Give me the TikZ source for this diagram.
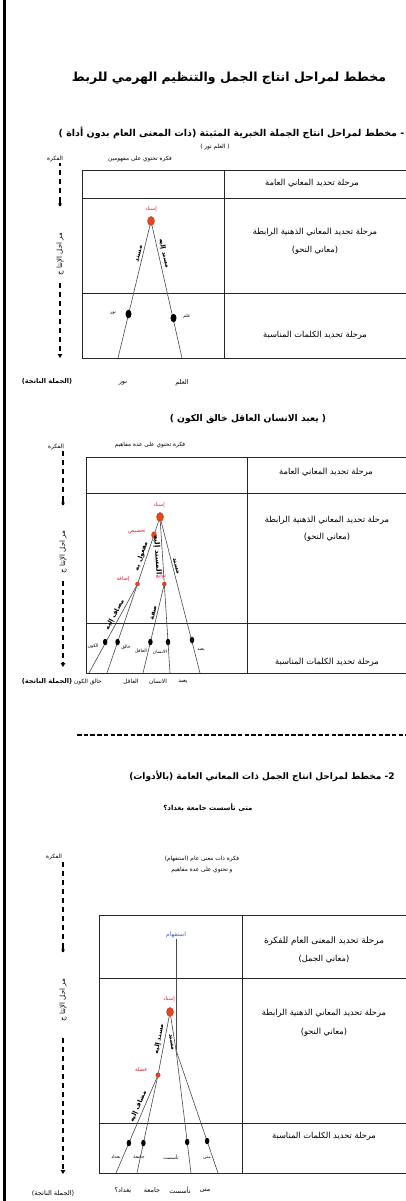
\documentclass[tikz,border=0pt]{standalone}
\usepackage{fontspec}
\newfontfamily\arabicfont[Script=Arabic]{DejaVu Sans}
\TeXXeTstate=1
\usetikzlibrary{arrows.meta,shapes.geometric}
\newcommand\AR[1]{{\arabicfont\beginR #1\endR}}
\definecolor{dotred}{HTML}{E8461E}
\definecolor{dotedge}{HTML}{B3260F}
\definecolor{labred}{HTML}{E3203A}
\definecolor{labblue}{HTML}{3F5FD6}
\definecolor{treeline}{HTML}{4A4A4A}
\tikzset{
  titletext/.style={inner sep=0.5pt, font=\bfseries\fontsize{12.5}{14}\selectfont},
  headtext/.style={inner sep=0.5pt, font=\bfseries\fontsize{9}{10}\selectfont},
  captext/.style={inner sep=0.5pt, font=\bfseries\fontsize{9.2}{10}\selectfont},
  smalltext/.style={inner sep=0.5pt, font=\fontsize{5.8}{11}\selectfont, align=center},
  phasetext/.style={inner sep=0.5pt, font=\fontsize{7}{8}\selectfont},
  tinytext/.style={inner sep=0.3pt, font=\fontsize{4.6}{5}\selectfont},
  wordtext/.style={inner sep=0.5pt, font=\fontsize{6.5}{7}\selectfont},
  restext/.style={inner sep=0.5pt, font=\bfseries\fontsize{6.6}{7}\selectfont},
  stagetext/.style={inner sep=0.5pt, font=\fontsize{8.3}{9}\selectfont},
  treelab/.style={inner sep=0.3pt, font=\bfseries\fontsize{6.4}{7}\selectfont},
  redlab/.style={inner sep=0.3pt, text=labred, font=\fontsize{5.3}{6}\selectfont},
  bluelab/.style={inner sep=0.3pt, text=labblue, font=\fontsize{6}{7}\selectfont},
  reddot/.style={ellipse, fill=dotred, draw=dotedge, line width=0.3pt, minimum width=7pt, minimum height=9pt, inner sep=0pt},
  smallred/.style={circle, fill=dotred, draw=dotedge, line width=0.3pt, minimum size=4pt, inner sep=0pt},
  bigbdot/.style={ellipse, fill=black, minimum width=6pt, minimum height=8.5pt, inner sep=0pt},
  bdot/.style={ellipse, fill=black, minimum width=4.5pt, minimum height=6.5pt, inner sep=0pt},
  adot/.style={ellipse, fill=black, minimum width=3pt, minimum height=4.5pt, inner sep=0pt},
  tline/.style={draw=treeline, line width=0.6pt},
  grid/.style={draw=black!85, line width=0.8pt},
  dashline/.style={line width=1.6pt, dash pattern=on 5pt off 4pt},
  arrowdash/.style={dashline, -{Triangle[length=4pt,width=4.5pt]}},
}
\begin{document}
\begin{tikzpicture}[x=1pt,y=-1pt]
\fill[white] (0,0) rectangle (406,1201);
\useasboundingbox (0,0) rectangle (406,1201);

% left border
\coordinate (bordertop) at (4.5,0);
\coordinate (borderbot) at (4.5,1201);
\draw[line width=3pt] (bordertop) -- (borderbot);

% ================= title =================
\node[titletext] (title) at (229,78) {\AR{مخطط لمراحل انتاج الجمل والتنظيم الهرمي للربط}};

% ================= section 1 =================
\node[headtext, font=\bfseries\fontsize{9.5}{10}\selectfont, anchor=east] (sub1) at (405,133) {\AR{- مخطط لمراحل انتاج الجملة الخبرية المثبتة (ذات المعنى العام بدون أداة )}};
\node[smalltext] (cap1) at (215,147) {\AR{( العلم نور )}};
\node[smalltext] (idea1) at (140,159) {\AR{فكرة تحتوي على مفهومين}};
\node[smalltext] (fk1) at (55,159) {\AR{الفكرة}};

\draw[grid] (406,170) -- (82,170) -- (82,358) -- (406,358);
\draw[grid] (82,198) -- (406,198);
\draw[grid] (82,293) -- (406,293);
\draw[grid] (224,170) -- (224,358);

\node[stagetext] (s11) at (312,183) {\AR{مرحلة تحديد المعاني العامة}};
\node[stagetext] (s12) at (315,232) {\AR{مرحلة تحديد المعاني الذهنية الرابطة}};
\node[stagetext] (s12b) at (315,250) {\AR{(معاني النحو)}};
\node[stagetext] (s13) at (315,335) {\AR{مرحلة تحديد الكلمات المناسبة}};

\node[reddot] (t1a) at (151,221) {};
\node[redlab] (t1al) at (151,209) {\AR{إسناد}};
\coordinate (t1e1) at (118,358);
\coordinate (t1e2) at (182,358);
\draw[tline] (t1a) -- (t1e1);
\draw[tline] (t1a) -- (t1e2);
\path (t1a) -- (t1e1) node[treelab, sloped, pos=0.22, above=2pt] (t1r1) {\AR{مسند}};
\path (t1a) -- (t1e2) node[treelab, sloped, pos=0.22, above=2pt] (t1r2) {\AR{مسند إليه}};
\node[bigbdot] (t1b1) at (128.5,314) {};
\node[bigbdot] (t1b2) at (173.5,318) {};
\node[tinytext] (t1w1) at (113,313) {\AR{نور}};
\node[tinytext] (t1w2) at (187,316) {\AR{علم}};

\node[restext] (res1) at (47,382) {\AR{(الجملة الناتجة)}};
\node[wordtext] (w11) at (123,383) {\AR{نور}};
\node[wordtext] (w12) at (182,383) {\AR{العلم}};

\node[adot] (ad1) at (60,204) {};
\node[phasetext, rotate=90] (ph1) at (60,254) {\AR{مر احل  الإنتا ج}};
\coordinate (ae1) at (60,358);
\draw[dashline] (ad1) -- (ad1 |- fk1.south);
\draw[arrowdash, shorten <=7pt] (ph1.west) -- (ae1);

% ================= section 1b =================
\node[captext] (cap2) at (248,419) {\AR{( يعبد الانسان العاقل خالق الكون )}};
\node[smalltext] (idea2) at (150,445) {\AR{فكرة تحتوي على عدة مفاهيم}};
\node[smalltext] (fk2) at (56,447) {\AR{الفكرة}};

\draw[grid] (406,457) -- (86,457) -- (86,673) -- (406,673);
\draw[grid] (86,493) -- (406,493);
\draw[grid] (86,623) -- (406,623);
\draw[grid] (247,457) -- (247,673);

\node[stagetext] (s21) at (326,472) {\AR{مرحلة تحديد المعاني العامة}};
\node[stagetext] (s22) at (327,520) {\AR{مرحلة تحديد المعاني الذهنية الرابطة}};
\node[stagetext] (s22b) at (327,537) {\AR{(معاني النحو)}};
\node[stagetext] (s23) at (327,662) {\AR{مرحلة تحديد الكلمات المناسبة}};

\node[reddot] (t2a) at (160,517) {};
\node[redlab] (t2al) at (159,505) {\AR{إسناد}};
\node[reddot, minimum width=5pt, minimum height=6.5pt] (t2b) at (154,535) {};
\node[redlab] (t2bl) at (137,532) {\AR{تخصيص}};
\node[smallred] (t2c) at (137.5,584) {};
\node[redlab] (t2cl) at (123,579) {\AR{إضافة}};
\node[smallred] (t2d) at (164.3,584) {};
\node[redlab] (t2dl) at (161,576) {\AR{توابع}};
\coordinate (t2e1) at (89,673);
\coordinate (t2e2) at (107,673);
\coordinate (t2e3) at (143,673);
\coordinate (t2e4) at (170,673);
\coordinate (t2e5) at (200,673);
\draw[tline] (t2a) -- (t2b);
\draw[tline] (t2a) -- (t2d);
\draw[tline] (t2d) -- (t2e4);
\draw[tline] (t2a) -- (t2e5);
\draw[tline] (t2b) -- (t2c);
\draw[tline] (t2c) -- (t2e2);
\draw[tline] (t2c) -- (t2e1);
\draw[tline] (t2d) -- (t2e3);
\path (t2b) -- (t2c) node[treelab, sloped, pos=0.45, above=1.5pt] (t2r1) {\AR{مفعول به}};
\path (t2a) -- (t2d) node[treelab, font=\bfseries\fontsize{7.2}{8}\selectfont, sloped, pos=0.55, below=1pt] (t2r2) {\AR{المسند إليه}};
\path (t2a) -- (t2e5) node[treelab, sloped, pos=0.3, above=1.5pt] (t2r3) {\AR{مسند}};
\path (t2c) -- (t2e1) node[treelab, sloped, pos=0.36, above=1.5pt] (t2r4) {\AR{مضاف إليه}};
\path (t2d) -- (t2e3) node[treelab, sloped, pos=0.32, above=1.5pt] (t2r5) {\AR{صفة}};
\node[bdot] (t2b1) at (105.2,642) {};
\node[bdot] (t2b2) at (117.6,642) {};
\node[bdot] (t2b3) at (150.4,642) {};
\node[bdot] (t2b4) at (168,642) {};
\node[bdot] (t2b5) at (192,640) {};
\node[tinytext] (t2w1) at (93,646) {\AR{الكون}};
\node[tinytext] (t2w2) at (126,647) {\AR{خالق}};
\node[tinytext] (t2w3) at (141,651) {\AR{العاقل}};
\node[tinytext] (t2w4) at (160,652) {\AR{الانسان}};
\node[tinytext] (t2w5) at (201,650) {\AR{يعبد}};

\node[restext] (res2) at (47,682) {\AR{(الجملة الناتجة)}};
\node[wordtext, font=\fontsize{5.8}{6}\selectfont] (w21) at (88,682) {\AR{خالق الكون}};
\node[wordtext, font=\fontsize{5.8}{6}\selectfont] (w22) at (131,682) {\AR{العاقل}};
\node[wordtext, font=\fontsize{5.8}{6}\selectfont] (w23) at (158,682) {\AR{الانسان}};
\node[wordtext, font=\fontsize{5.8}{6}\selectfont] (w24) at (183,682) {\AR{يعبد}};

\node[adot] (ad2) at (63,503) {};
\node[phasetext, rotate=90] (ph2) at (63,552) {\AR{مر احل  الإنتا ج}};
\coordinate (ae2) at (63,667);
\draw[dashline] (ad2) -- (ad2 |- fk2.south);
\draw[arrowdash, shorten <=7pt] (ph2.west) -- (ae2);

% ================= separator =================
\coordinate (sepl) at (77,735);
\coordinate (sepr) at (406,735);
\draw[line width=1.6pt, dash pattern=on 4.5pt off 2.2pt] (sepl) -- (sepr);

% ================= section 2 =================
\node[headtext] (sub2) at (262,776) {\AR{2- مخطط لمراحل انتاج الجمل ذات المعاني العامة (بالأدوات)}};
\node[captext, font=\bfseries\fontsize{7}{8}\selectfont] (q3) at (208,808) {\AR{متى تأسست جامعة بغداد؟}};
\node[smalltext] (idea3) at (202,864) {\AR{فكرة ذات معنى عام (استفهام)}\\\AR{و تحتوي على عدة مفاهيم}};
\node[smalltext] (fk3) at (54,857) {\AR{الفكرة}};

\draw[grid] (406,915) -- (99,915) -- (99,1173) -- (406,1173);
\draw[grid] (99,978) -- (406,978);
\draw[grid] (99,1123) -- (406,1123);
\draw[grid] (242,915) -- (242,1173);

\node[stagetext, font=\fontsize{8.8}{9}\selectfont] (s31) at (324,941) {\AR{مرحلة تحديد المعنى العام للفكرة}};
\node[stagetext] (s31b) at (324,959) {\AR{(معاني الجمل)}};
\node[stagetext] (s32) at (324,1013) {\AR{مرحلة تحديد المعاني الذهنية الرابطة}};
\node[stagetext] (s32b) at (324,1032) {\AR{(معاني النحو)}};
\node[stagetext] (s33) at (324,1136) {\AR{مرحلة تحديد الكلمات المناسبة}};

\node[bluelab] (t3q) at (176,935) {\AR{استفهام}};
\coordinate (t3j) at (176,1050);
\draw[tline] (t3q) -- (t3j);
\node[reddot] (t3a) at (170,1012) {};
\node[redlab] (t3al) at (169,999) {\AR{إسناد}};
\node[smallred, minimum size=4.5pt] (t3f) at (158,1075) {};
\node[redlab] (t3fl) at (141,1069) {\AR{فضلة}};
\coordinate (t3e1) at (116,1173);
\coordinate (t3e2) at (137,1173);
\coordinate (t3e3) at (191,1173);
\coordinate (t3e4) at (218,1173);
\draw[tline] (t3a) -- (t3j);
\draw[tline] (t3j) -- (t3e3);
\draw[tline] (t3j) -- (t3e4);
\draw[tline] (t3a) -- (t3f);
\draw[tline] (t3f) -- (t3e1);
\draw[tline] (t3f) -- (t3e2);
\path (t3a) -- (t3f) node[treelab, sloped, pos=0.42, above=2pt] (t3r1) {\AR{مسند إليه}};
\path (t3a) -- (t3j) node[treelab, sloped, pos=0.75, below=0.8pt] (t3r2) {\AR{مسند}};
\path (t3f) -- (t3e1) node[treelab, sloped, pos=0.33, above=2pt] (t3r3) {\AR{مضاف إليه}};
\node[bdot] (t3b1) at (128.9,1143) {};
\node[bdot] (t3b2) at (143.4,1143) {};
\node[bdot] (t3b3) at (187.2,1142) {};
\node[bdot] (t3b4) at (207.1,1141) {};
\node[tinytext] (t3w1) at (116,1157) {\AR{بغداد}};
\node[tinytext] (t3w2) at (139,1157) {\AR{جامعة}};
\node[tinytext] (t3w3) at (171,1157) {\AR{تأسست}};
\node[tinytext] (t3w4) at (207,1158) {\AR{متى}};

\node[restext, font=\fontsize{6.6}{7}\selectfont] (res3) at (53,1193) {\AR{(الجملة الناتجة)}};
\node[wordtext] (w31) at (123,1190) {\AR{بغداد؟}};
\node[wordtext] (w32) at (152,1190) {\AR{جامعة}};
\node[wordtext] (w33) at (180,1190) {\AR{تأسست}};
\node[wordtext] (w34) at (205,1190) {\AR{متى}};

\node[adot] (ad3) at (63,950) {};
\node[phasetext, rotate=90] (ph3) at (63,1000) {\AR{مر احل  الإنتا ج}};
\coordinate (ae3) at (63,1174);
\draw[dashline] (ad3) -- (ad3 |- fk3.south);
\draw[arrowdash, shorten <=16pt] (ph3.west) -- (ae3);
\end{tikzpicture}
\end{document}
